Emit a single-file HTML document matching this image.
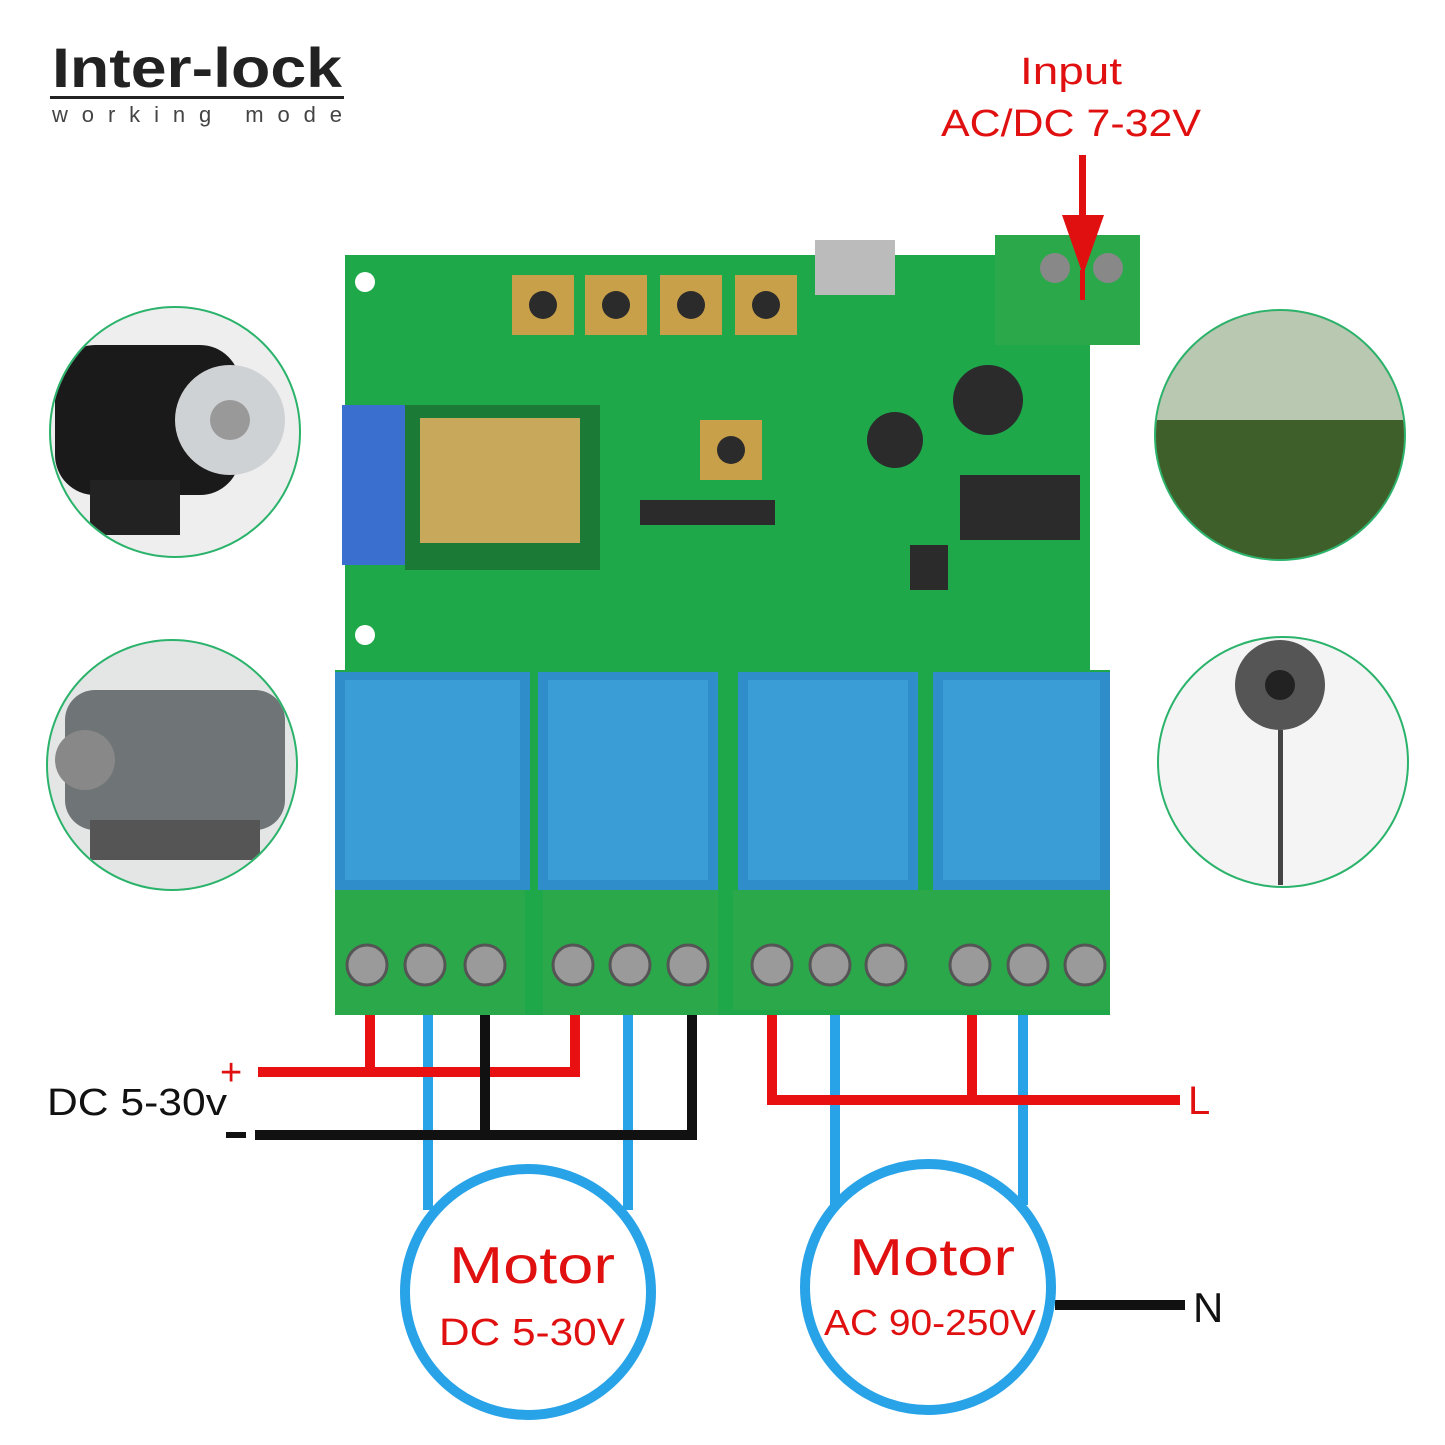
<!DOCTYPE html>
<html><head><meta charset="utf-8"><style>
html,body{margin:0;padding:0;background:#fff}
svg{display:block}
</style></head><body>
<svg width="1445" height="1445" viewBox="0 0 1445 1445" xmlns="http://www.w3.org/2000/svg" font-family="Liberation Sans, sans-serif">
<defs><clipPath id="c3"><circle cx="1280" cy="435" r="124"/></clipPath><clipPath id="c1"><circle cx="175" cy="432" r="124"/></clipPath><clipPath id="c2"><circle cx="172" cy="765" r="124"/></clipPath></defs>
<rect width="1445" height="1445" fill="#fff"/>
<text x="52" y="87" font-size="56" font-weight="bold" fill="#222" textLength="290" lengthAdjust="spacingAndGlyphs">Inter-lock</text>
<rect x="50" y="96" width="294" height="3" fill="#222"/>
<text x="52" y="122" font-size="22" fill="#444" textLength="290" lengthAdjust="spacing">working mode</text>
<text x="1071" y="84" font-size="38" fill="#e01010" text-anchor="middle" textLength="102" lengthAdjust="spacingAndGlyphs">Input</text>
<text x="1071" y="136" font-size="38" fill="#e01010" text-anchor="middle" textLength="260" lengthAdjust="spacingAndGlyphs">AC/DC 7-32V</text>

<g stroke="#2bb36b" stroke-width="2">
<circle cx="175" cy="432" r="125" fill="#eee"/>
<circle cx="172" cy="765" r="125" fill="#e4e6e6"/>
<circle cx="1280" cy="435" r="125" fill="#6b8a55"/>
<circle cx="1283" cy="762" r="125" fill="#f4f4f4"/>
</g>
<g clip-path="url(#c1)">
<rect x="55" y="345" width="185" height="150" rx="40" fill="#1a1a1a"/>
<circle cx="230" cy="420" r="55" fill="#cfd2d4"/>
<circle cx="230" cy="420" r="20" fill="#999"/>
<rect x="90" y="480" width="90" height="55" fill="#222"/>
</g>
<g clip-path="url(#c2)">
<rect x="65" y="690" width="220" height="140" rx="30" fill="#6f7476"/>
<rect x="90" y="820" width="170" height="40" fill="#555"/>
<circle cx="85" cy="760" r="30" fill="#888"/>
</g>
<g clip-path="url(#c3)">
<rect x="1156" y="310" width="248" height="130" fill="#b9c8b0"/>
<rect x="1156" y="420" width="248" height="140" fill="#3f5f2a"/>
</g>
<circle cx="1280" cy="685" r="45" fill="#555"/>
<circle cx="1280" cy="685" r="15" fill="#222"/>
<rect x="1278" y="730" width="5" height="155" fill="#444"/>

<path d="M345,255 L1000,255 L1000,345 L1090,345 L1090,670 L1110,670 L1110,1015 L335,1015 L335,670 L345,670 Z" fill="#1fa84a"/>
<rect x="342" y="405" width="70" height="160" fill="#3a6fd0"/>
<circle cx="365" cy="282" r="10" fill="#fff"/>
<circle cx="365" cy="635" r="10" fill="#fff"/>
<rect x="405" y="405" width="195" height="165" fill="#1a7a36"/>
<rect x="420" y="418" width="160" height="125" fill="#c8a85a"/>
<g fill="#2b2b2b">
<rect x="512" y="275" width="62" height="60" fill="#c9a04a"/>
<rect x="585" y="275" width="62" height="60" fill="#c9a04a"/>
<rect x="660" y="275" width="62" height="60" fill="#c9a04a"/>
<rect x="735" y="275" width="62" height="60" fill="#c9a04a"/>
<circle cx="543" cy="305" r="14"/><circle cx="616" cy="305" r="14"/><circle cx="691" cy="305" r="14"/><circle cx="766" cy="305" r="14"/>
<rect x="700" y="420" width="62" height="60" fill="#c9a04a"/>
<circle cx="731" cy="450" r="14"/>
<rect x="640" y="500" width="135" height="25"/>
<rect x="960" y="475" width="120" height="65"/>
<rect x="910" y="545" width="38" height="45"/>
<circle cx="988" cy="400" r="35"/>
<circle cx="895" cy="440" r="28"/>
</g>
<rect x="815" y="240" width="80" height="55" fill="#bbb"/>
<rect x="995" y="235" width="145" height="110" fill="#2aa84a"/>
<circle cx="1055" cy="268" r="15" fill="#888"/>
<circle cx="1108" cy="268" r="15" fill="#888"/>
<rect x="1079" y="155" width="7" height="70" fill="#e01010"/>
<polygon points="1062,215 1104,215 1083,275" fill="#e01010"/>
<rect x="1080" y="270" width="5" height="30" fill="#e01010"/>
<g fill="#2f8ec9">
<rect x="335" y="672" width="195" height="218"/>
<rect x="538" y="672" width="180" height="218"/>
<rect x="738" y="672" width="180" height="218"/>
<rect x="933" y="672" width="177" height="218"/>
</g>
<g fill="#3a9dd6">
<rect x="345" y="680" width="175" height="200"/>
<rect x="548" y="680" width="160" height="200"/>
<rect x="748" y="680" width="160" height="200"/>
<rect x="943" y="680" width="157" height="200"/>
</g>
<g fill="#2aa84a">
<rect x="335" y="890" width="190" height="125"/>
<rect x="543" y="890" width="175" height="125"/>
<rect x="733" y="890" width="185" height="120"/>
<rect x="918" y="890" width="192" height="120"/>
</g>
<g fill="#9a9a9a" stroke="#555" stroke-width="3">
<circle cx="367" cy="965" r="20"/><circle cx="425" cy="965" r="20"/><circle cx="485" cy="965" r="20"/>
<circle cx="573" cy="965" r="20"/><circle cx="630" cy="965" r="20"/><circle cx="688" cy="965" r="20"/>
<circle cx="772" cy="965" r="20"/><circle cx="830" cy="965" r="20"/><circle cx="886" cy="965" r="20"/>
<circle cx="970" cy="965" r="20"/><circle cx="1028" cy="965" r="20"/><circle cx="1085" cy="965" r="20"/>
</g>

<g fill="none" stroke-width="10">
<path d="M428,1015 V1210" stroke="#29a3e8"/>
<path d="M628,1015 V1210" stroke="#29a3e8"/>
<path d="M835,1015 V1205" stroke="#29a3e8"/>
<path d="M1023,1015 V1205" stroke="#29a3e8"/>
<path d="M370,1015 V1072 M258,1072 H580 M575,1015 V1076" stroke="#e81010"/>
<path d="M485,1015 V1135 M255,1135 H697 M692,1015 V1140" stroke="#111"/>
<path d="M772,1015 V1100 H1180 M972,1015 V1100" stroke="#e81010"/>
<path d="M1055,1305 H1185" stroke="#111"/>
</g>
<circle cx="528" cy="1292" r="123" fill="#fff" stroke="#29a3e8" stroke-width="10"/>
<circle cx="928" cy="1287" r="123" fill="#fff" stroke="#29a3e8" stroke-width="10"/>
<text x="532" y="1283" font-size="52" fill="#e01010" text-anchor="middle" textLength="166" lengthAdjust="spacingAndGlyphs">Motor</text>
<text x="532" y="1345" font-size="38" fill="#e01010" text-anchor="middle" textLength="186" lengthAdjust="spacingAndGlyphs">DC 5-30V</text>
<text x="932" y="1275" font-size="52" fill="#e01010" text-anchor="middle" textLength="166" lengthAdjust="spacingAndGlyphs">Motor</text>
<text x="930" y="1335" font-size="36" fill="#e01010" text-anchor="middle" textLength="212" lengthAdjust="spacingAndGlyphs">AC 90-250V</text>
<text x="47" y="1115" font-size="38" fill="#111" textLength="180" lengthAdjust="spacingAndGlyphs">DC 5-30v</text>
<text x="220" y="1085" font-size="38" fill="#e01010">+</text>
<rect x="226" y="1132" width="20" height="6" fill="#111"/>
<text x="1188" y="1114" font-size="40" fill="#e01010">L</text>
<text x="1193" y="1322" font-size="42" fill="#111">N</text>
</svg>
</body></html>
